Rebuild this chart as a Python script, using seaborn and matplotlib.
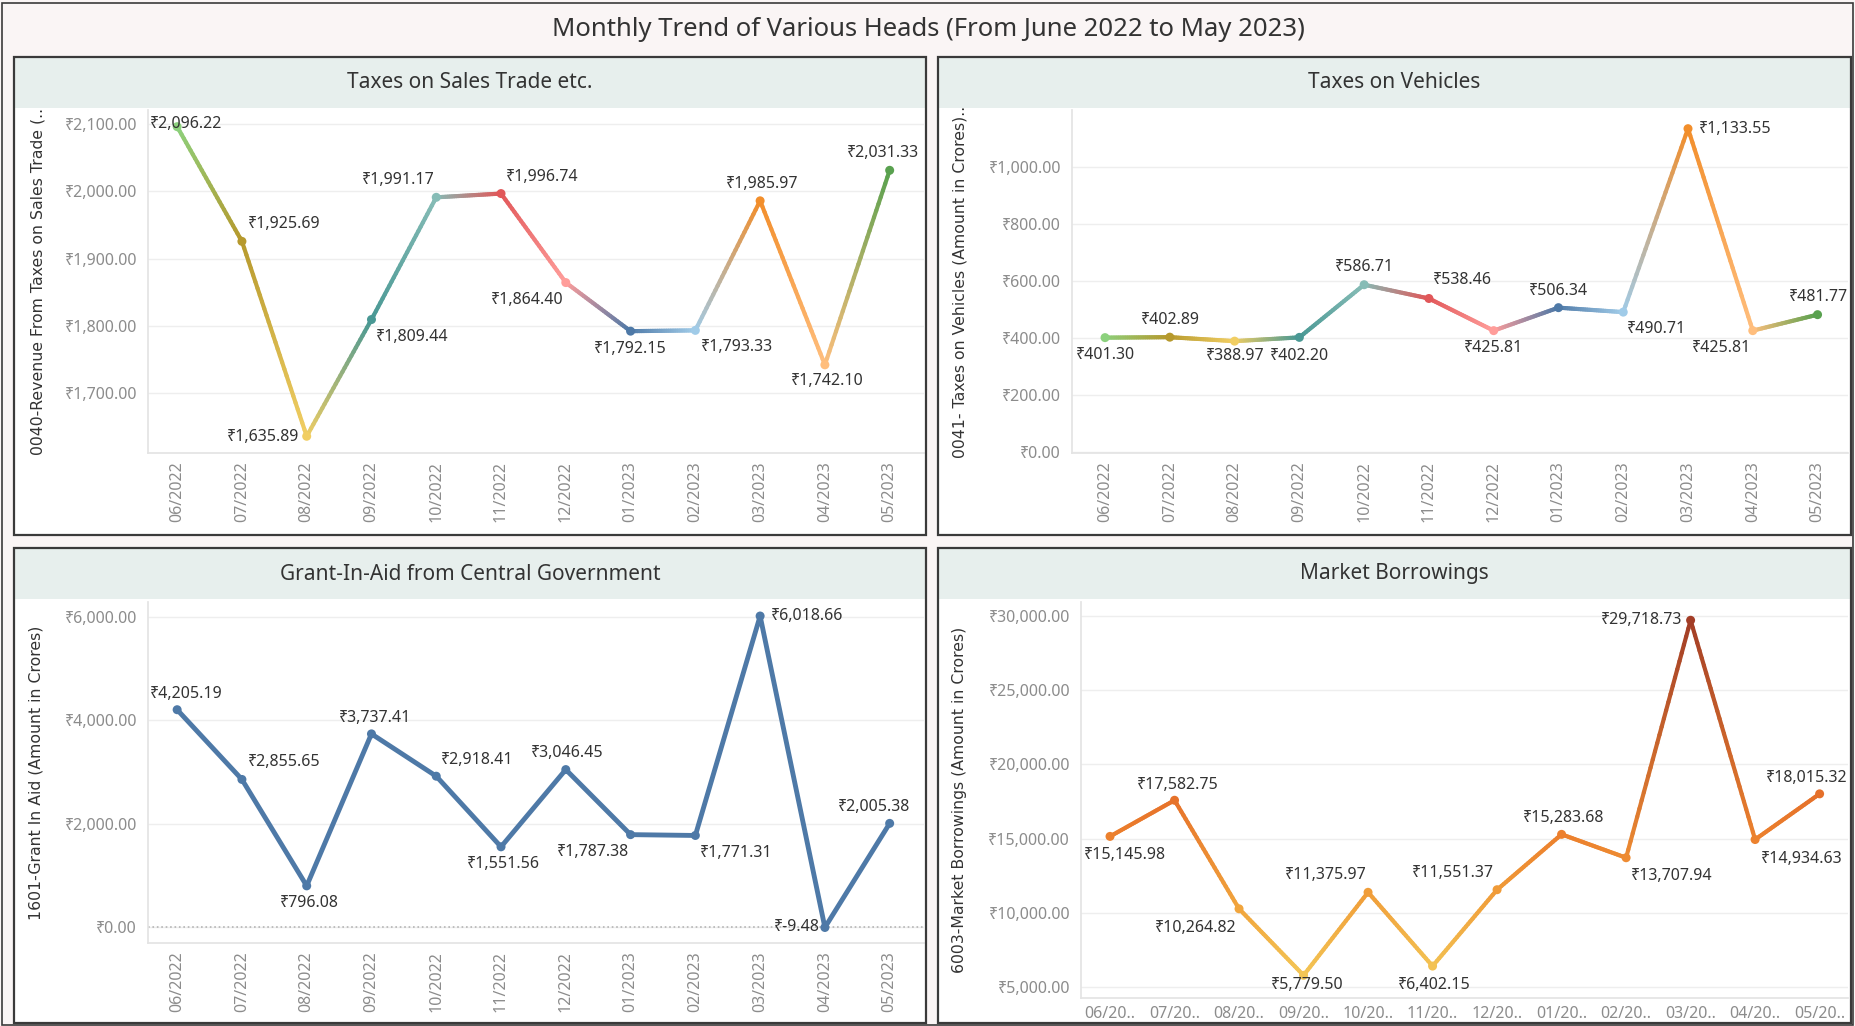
import numpy as np
import seaborn as sns
import matplotlib.pyplot as plt
from matplotlib.collections import LineCollection
from matplotlib.colors import LinearSegmentedColormap, Normalize, to_rgb
from matplotlib.patches import Rectangle
from matplotlib.ticker import FuncFormatter, MultipleLocator

sns.set_theme(style='white')
plt.rcParams['font.family'] = ['Noto Sans', 'DejaVu Sans']

###----- data -----###
months = ['06/2022', '07/2022', '08/2022', '09/2022', '10/2022', '11/2022',
          '12/2022', '01/2023', '02/2023', '03/2023', '04/2023', '05/2023']
sales_trade = [2096.22, 1925.69, 1635.89, 1809.44, 1991.17, 1996.74,
               1864.40, 1792.15, 1793.33, 1985.97, 1742.10, 2031.33]
vehicles = [401.30, 402.89, 388.97, 402.20, 586.71, 538.46,
            425.81, 506.34, 490.71, 1133.55, 425.81, 481.77]
grant_in_aid = [4205.19, 2855.65, 796.08, 3737.41, 2918.41, 1551.56,
                3046.45, 1787.38, 1771.31, 6018.66, -9.48, 2005.38]
borrowings = [15145.98, 17582.75, 10264.82, 5779.50, 11375.97, 6402.15,
              11551.37, 15283.68, 13707.94, 29718.73, 14934.63, 18015.32]

# tableau 20 colours keyed by month number
month_colours = {'01': '#4E79A7', '02': '#A0CBE8', '03': '#F28E2B', '04': '#FFBE7D',
                 '05': '#59A14F', '06': '#8CD17D', '07': '#B6992D', '08': '#F1CE63',
                 '09': '#499894', '10': '#86BCB6', '11': '#E15759', '12': '#FF9D9A'}

###----- layout (pixels of a 1856x1026 canvas) -----###
W, H = 1856, 1026
fig = plt.figure(figsize=(W / 100, H / 100), dpi=100, facecolor='#faf5f5')

def fig_rect(x0, y0, x1, y1):
    return (x0 / W, 1 - y1 / H, (x1 - x0) / W, (y1 - y0) / H)

def money(v):
    return f'₹{v:,.2f}'

def add_panel(x0, y0, x1, y1, title):
    l, b, w, h = fig_rect(x0, y0, x1, y1)
    fig.add_artist(Rectangle((l, b), w, h, transform=fig.transFigure,
                             facecolor='white', edgecolor='none', zorder=-2))
    l, b, w, h = fig_rect(x0, y0, x1, y0 + 51)
    fig.add_artist(Rectangle((l, b), w, h, transform=fig.transFigure,
                             facecolor='#e7efed', edgecolor='none', zorder=-1))
    l, b, w, h = fig_rect(x0, y0, x1, y1)
    fig.add_artist(Rectangle((l, b), w, h, transform=fig.transFigure,
                             facecolor='none', edgecolor='#3a3a3a', lw=1.6, zorder=5))
    fig.text((x0 + x1) / 2 / W, 1 - (y0 + 26) / H, title, ha='center', va='center',
             fontsize=15, color='#333333')

def gradient_line(ax, y, colours, lw):
    # colour each leg of the line as a blend between its two end points
    x = np.arange(len(y))
    segs, cols = [], []
    t = np.linspace(0, 1, 30)
    for i in range(len(y) - 1):
        c0, c1 = np.array(to_rgb(colours[i])), np.array(to_rgb(colours[i + 1]))
        pts = np.column_stack([x[i] + t * (x[i + 1] - x[i]), y[i] + t * (y[i + 1] - y[i])])
        for k in range(len(t) - 1):
            segs.append(pts[k:k + 2])
            cols.append(c0 + (c1 - c0) * (t[k] + t[k + 1]) / 2)
    ax.add_collection(LineCollection(segs, colors=cols, linewidths=lw,
                                     capstyle='round', joinstyle='round', zorder=2))

def style_axes(ax, ylabel, label_x, xlim, ylim, step, rotate=True, xticklabels=None):
    ax.set_facecolor('white')
    ax.set_xlim(*xlim)
    ax.set_ylim(*ylim)
    ax.yaxis.set_major_locator(MultipleLocator(step))
    ax.yaxis.set_major_formatter(FuncFormatter(lambda v, _: money(v)))
    ax.set_xticks(range(len(months)))
    ax.set_xticklabels(xticklabels if xticklabels else months, rotation=90 if rotate else 0)
    ax.tick_params(axis='both', length=0, labelsize=11.5, labelcolor='#8c8c8c')
    ax.tick_params(axis='y', pad=8)
    ax.tick_params(axis='x', pad=6)
    ax.grid(axis='y', color='#eeeeee', lw=1)
    ax.set_axisbelow(True)
    for side in ['top', 'right']:
        ax.spines[side].set_visible(False)
    for side in ['left', 'bottom']:
        ax.spines[side].set_color('#e4e4e4')
    ax.set_ylabel(ylabel, fontsize=11.3, color='#333333', family='DejaVu Sans', va='center')
    ax.yaxis.set_label_coords(label_x, 0.5)
    ax.set_xlabel('')

def add_labels(ax, values, offsets):
    for i, v in enumerate(values):
        dx, dy = offsets[i]
        ax.annotate(money(v), (i, v), xytext=(dx, dy), textcoords='offset pixels',
                    ha='center', va='center', fontsize=11.5, color='#333333',
                    annotation_clip=False, zorder=4)

# title band + outer frame
fig.add_artist(Rectangle((2 / W, 1 / H), 1851 / W, 1022 / H, transform=fig.transFigure,
                         facecolor='none', edgecolor='#3a3a3a', lw=1.2, zorder=6))
fig.text(0.5, 1 - 29 / H, 'Monthly Trend of Various Heads (From June 2022 to May 2023)',
         ha='center', va='center', fontsize=18.5, color='#333333')

add_panel(14, 57, 926, 535, 'Taxes on Sales Trade etc.')
add_panel(938, 57, 1851, 535, 'Taxes on Vehicles')
add_panel(14, 548, 926, 1023, 'Grant-In-Aid from Central Government')
add_panel(938, 548, 1851, 1023, 'Market Borrowings')

x_idx = np.arange(len(months))
month_cols = [month_colours[m[:2]] for m in months]

###----- Taxes on Sales Trade -----###
ax1 = fig.add_axes(fig_rect(148, 110, 924, 453))
gradient_line(ax1, sales_trade, month_cols, 3)
sns.scatterplot(x=x_idx, y=sales_trade, hue=months, palette=month_cols, legend=False,
                s=42, edgecolor='none', ax=ax1, zorder=3)
style_axes(ax1, '0040-Revenue From Taxes on Sales Trade (..', -0.142,
           (-0.45, 11.53), (1611, 2121), 100)
add_labels(ax1, sales_trade, [(9, 3), (42, 17), (-44, -1), (41, -17), (-38, 17), (41, 17),
                              (-39, -17), (0, -18), (41, -17), (2, 17), (2, -16), (-7, 17)])

###----- Taxes on Vehicles -----###
ax2 = fig.add_axes(fig_rect(1072, 110, 1848, 453))
gradient_line(ax2, vehicles, month_cols, 3)
sns.scatterplot(x=x_idx, y=vehicles, hue=months, palette=month_cols, legend=False,
                s=42, edgecolor='none', ax=ax2, zorder=3)
style_axes(ax2, '0041- Taxes on Vehicles (Amount in Crores)..', -0.144,
           (-0.51, 11.47), (-3, 1199), 200)
add_labels(ax2, vehicles, [(0, -17), (0, 17), (0, -15), (0, -19), (0, 18), (33, 18),
                           (0, -17), (0, 17), (33, -17), (47, 0), (-31, -17), (1, 18)])

###----- Grant-In-Aid -----###
ax3 = fig.add_axes(fig_rect(148, 602, 924, 943))
sns.lineplot(x=x_idx, y=grant_in_aid, color='#4E79A7', lw=3.5, ax=ax3, zorder=2)
sns.scatterplot(x=x_idx, y=grant_in_aid, color='#4E79A7', s=42, edgecolor='none',
                ax=ax3, zorder=3)
style_axes(ax3, '1601-Grant In Aid (Amount in Crores)', -0.144,
           (-0.45, 11.53), (-310, 6290), 2000)
ax3.axhline(0, color='#b5b5b5', ls=':', lw=1.2, zorder=1)
add_labels(ax3, grant_in_aid, [(9, 16), (42, 17), (2, -17), (3, 16), (41, 16), (2, -17),
                               (1, 17), (-38, -17), (41, -18), (47, 0), (-28, 0), (-16, 16)])

###----- Market Borrowings -----###
ax4 = fig.add_axes(fig_rect(1081, 602, 1848, 998))
orange_cmap = LinearSegmentedColormap.from_list(
    'orange_gold', [(0, '#f3c656'), (0.19, '#f1a43c'), (0.39, '#ec802d'),
                    (0.5, '#e6712a'), (1, '#a23d26')])
norm = Normalize(min(borrowings), max(borrowings))
borrow_cols = [orange_cmap(norm(v)) for v in borrowings]
gradient_line(ax4, borrowings, borrow_cols, 3)
sns.scatterplot(x=x_idx, y=borrowings, hue=months, palette=borrow_cols, legend=False,
                s=42, edgecolor='none', ax=ax4, zorder=3)
style_axes(ax4, '6003-Market Borrowings (Amount in Crores)', -0.158,
           (-0.45, 11.44), (4250, 30950), 5000, rotate=False,
           xticklabels=[m[:5] + '..' for m in months])
add_labels(ax4, borrowings, [(15, -19), (3, 15), (-43, -19), (4, -10), (-42, 17), (2, -19),
                             (-44, 17), (2, 16), (45, -18), (-49, 0), (46, -19), (-13, 16)])

fig.savefig('out.png', dpi=100, facecolor=fig.get_facecolor())
